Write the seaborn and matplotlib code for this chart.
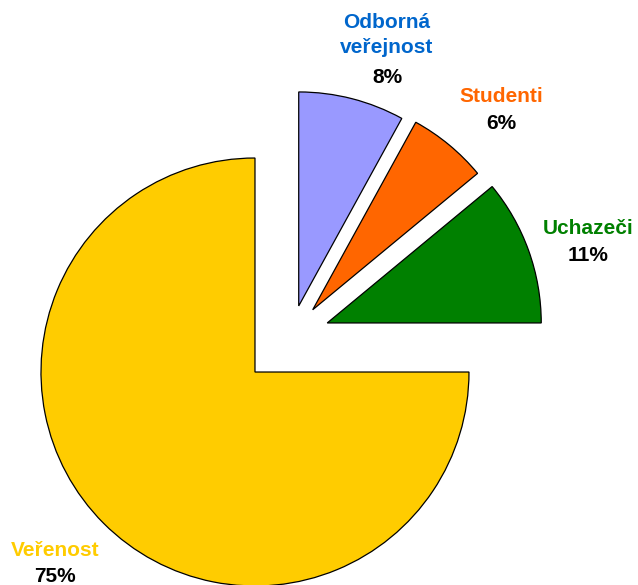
import matplotlib
matplotlib.use("Agg")
import matplotlib.pyplot as plt
import seaborn as sns

# Audience shares (percent)
categories = ["Odborná\nveřejnost", "Studenti", "Uchazeči", "Veřenost"]
shares = [8, 6, 11, 75]
slice_hex = ["#9999FF", "#FF6600", "#008000", "#FFCC00"]
label_hex = ["#0066CC", "#FF6600", "#008000", "#FFCC00"]
explode = [0.145, 0.159, 0.18, 0.238]

sns.set_theme(style="white")
plt.rcParams["font.family"] = ["Liberation Sans", "DejaVu Sans"]
palette = sns.color_palette(slice_hex)

W, H = 638, 585
R_PX = 214.0          # pie radius in pixels
CX, CY = 291.0, 336.0  # pie centre in pixels (from top-left)

fig = plt.figure(figsize=(W / 100, H / 100), dpi=100)
ax = fig.add_axes([0, 0, 1, 1])


def px(x, y):
    """Convert a pixel position (top-left origin) into pie units."""
    return (x - CX) / R_PX, (CY - y) / R_PX


ax.pie(shares, colors=palette, explode=explode, startangle=90,
       counterclock=False, radius=1.0, center=(0, 0), frame=True,
       wedgeprops=dict(edgecolor="black", linewidth=0.9))
ax.set_xlim(-CX / R_PX, (W - CX) / R_PX)
ax.set_ylim(-(H - CY) / R_PX, CY / R_PX)
ax.set_axis_off()

# label anchor: (x centre, name y centre, percent y centre) in pixels
label_pos = [(387, 35, 78), (501, 97, 124), (588, 228, 256), (55, 550, 576)]
for name, val, col, (lx, ny, py) in zip(categories, shares, label_hex, label_pos):
    ax.text(*px(lx, ny), name, color=col, fontsize=15, fontweight="bold",
            ha="center", va="center", linespacing=1.35)
    ax.text(*px(lx, py), f"{val}%", color="black", fontsize=15,
            fontweight="bold", ha="center", va="center")

fig.savefig("out.png", dpi=100)
